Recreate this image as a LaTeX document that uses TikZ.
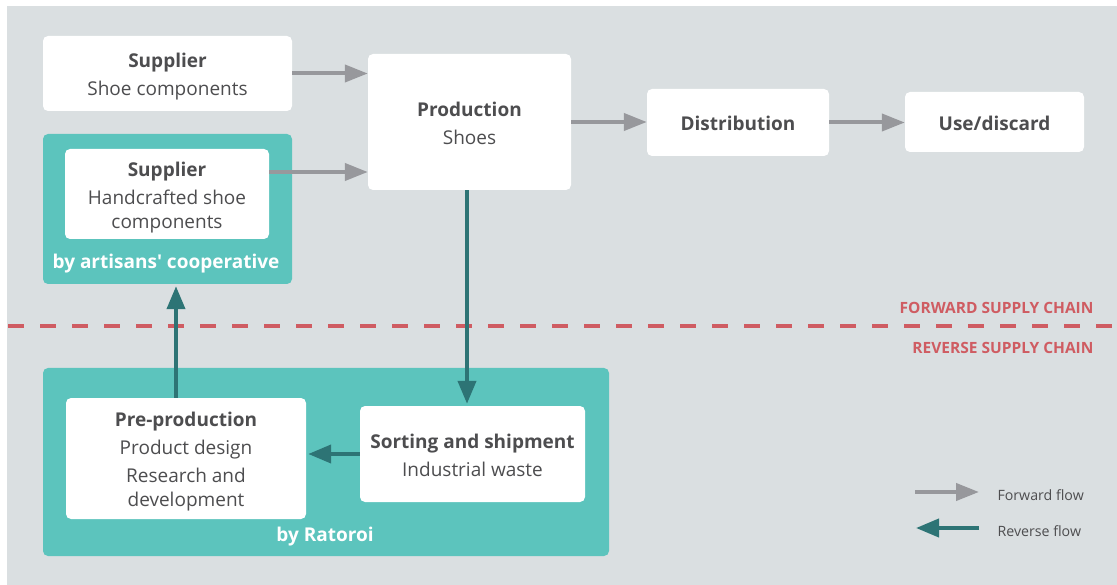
\documentclass[tikz,border=0pt]{standalone}
\usepackage{fontspec}
\setmainfont{Open Sans}
\usetikzlibrary{arrows.meta}
\definecolor{bggrey}{HTML}{DADFE1}
\definecolor{tealfill}{HTML}{5CC4BD}
\definecolor{darkteal}{HTML}{2D7475}
\definecolor{arrowgrey}{HTML}{97989C}
\definecolor{textgrey}{HTML}{4D4D4F}
\definecolor{redline}{HTML}{CF5C62}
\newcommand\topstr{\rule{0pt}{21pt}}
\newcommand\botstr{\rule[-4pt]{0pt}{4pt}}
\begin{document}
\begin{tikzpicture}[x=1pt,y=-1pt,
  box/.style={fill=white, rounded corners=5pt, text=textgrey, align=center,
    font=\fontsize{19}{24}\selectfont, inner sep=0pt},
  group/.style={fill=tealfill, rounded corners=5pt, inner sep=0pt},
  grouplabel/.style={text=white, font=\fontsize{19}{23}\selectfont\bfseries},
  fwd/.style={draw=arrowgrey, line width=4pt, -{Triangle[length=23pt,width=17pt]}},
  rev/.style={draw=darkteal, line width=4pt, -{Triangle[length=23pt,width=18pt]}},
  chainlabel/.style={text=redline, font=\fontsize{15.5}{18}\selectfont\bfseries, anchor=east},
  legendlabel/.style={text=textgrey, font=\fontsize{14.2}{17}\selectfont, anchor=west}]
\useasboundingbox (0,0) rectangle (1117,585);
\fill[white] (0,0) rectangle (1117,585);
\fill[bggrey] (7,6) rectangle (1117,585);

% groups
\node[group, minimum width=249pt, minimum height=150pt] (coop) at (167.5,209) {};
\node[group, minimum width=566pt, minimum height=188pt] (rat) at (326,462) {};
\node[grouplabel] (coopl) at (166,260) {\topstr by artisans\textquotesingle\ cooperative\botstr};
\node[grouplabel] (ratl) at (325,533) {\topstr by Ratoroi\botstr};

% boxes
\node[box, minimum width=249pt, minimum height=75pt] (sup1) at (167.5,73.5)
  {\topstr\textbf{Supplier}\\[4pt]Shoe components\botstr};
\node[box, minimum width=204pt, minimum height=90pt] (sup2) at (167,194)
  {\topstr\textbf{Supplier}\\[4pt]Handcrafted shoe\\components\botstr};
\node[box, minimum width=203pt, minimum height=136pt] (prod) at (469.5,122)
  {\topstr\textbf{Production}\\[4pt]Shoes\botstr};
\node[box, minimum width=182pt, minimum height=67pt] (dist) at (738,122.5)
  {\topstr\textbf{Distribution}\botstr};
\node[box, minimum width=179pt, minimum height=60pt] (use) at (994.5,122)
  {\topstr\textbf{Use/discard}\botstr};
\node[box, minimum width=240pt, minimum height=121pt] (pre) at (186,458.5)
  {\topstr\textbf{Pre-production}\\[4pt]Product design\\[4pt]Research and\\development\botstr};
\node[box, minimum width=225pt, minimum height=96pt] (sort) at (472.5,454)
  {\topstr\textbf{Sorting and shipment}\\[4pt]Industrial waste\botstr};

% dashed divider
\coordinate (ds) at (8,326);
\coordinate (de) at (1117,326);
\draw[redline, line width=4pt, dash pattern=on 16pt off 16pt] (ds) -- (de);
\node[chainlabel] (fsc) at (1097,308) {FORWARD SUPPLY CHAIN};
\node[chainlabel] (rsc) at (1097,348) {REVERSE SUPPLY CHAIN};

% forward arrows
\draw[fwd] (sup1.east) -- (sup1.east -| prod.west);
\coordinate (s2o) at ([yshift=22pt]sup2.east);
\draw[fwd] (s2o) -- (s2o -| prod.west);
\draw[fwd] (prod.east) -- (prod.east -| dist.west);
\draw[fwd] (dist.east) -- (dist.east -| use.west);

% reverse arrows
\coordinate (pd) at ([xshift=-2.5pt]prod.south);
\draw[rev, shorten >=2pt] (pd) -- (pd |- sort.north);
\draw[rev, shorten >=2pt] (sort.west) -- (sort.west -| pre.east);
\coordinate (pu) at ([xshift=-10pt]pre.north);
\draw[rev, shorten >=2pt] (pu) -- (pu |- coop.south);

% legend
\coordinate (lf1) at (915,492);
\coordinate (lf2) at (979,492);
\draw[fwd] (lf1) -- (lf2);
\node[legendlabel] (lft) at (994,495) {Forward flow};
\coordinate (lr1) at (979,528);
\coordinate (lr2) at (916,528);
\draw[rev] (lr1) -- (lr2);
\node[legendlabel] (lrt) at (994,531) {Reverse flow};
\end{tikzpicture}
\end{document}
